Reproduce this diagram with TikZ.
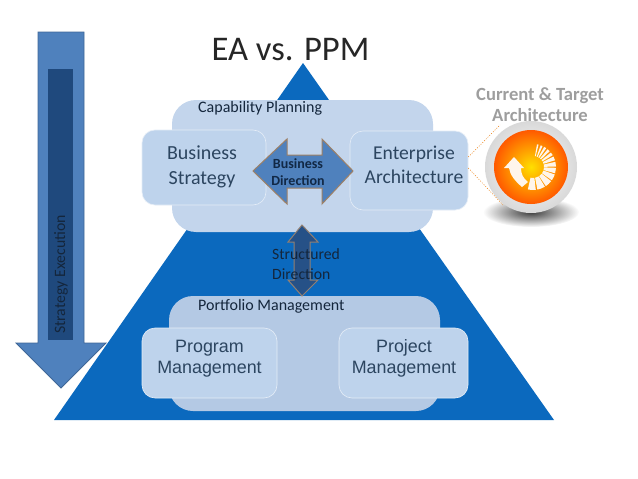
\documentclass[tikz,border=0pt]{standalone}
\usepackage{fontspec}
\setmainfont{Carlito}
\newfontfamily\arialfont{Liberation Sans}
\usetikzlibrary{fadings,shadings}
\definecolor{tri}{HTML}{0B69BE}
\definecolor{panel}{HTML}{C3D5EC}
\definecolor{panelb}{HTML}{B4C9E4}
\definecolor{inner}{HTML}{BED3EC}
\definecolor{arrowblue}{HTML}{4F81BD}
\definecolor{darkblue}{HTML}{1F497D}
\definecolor{labelcol}{HTML}{14263C}
\definecolor{softcol}{HTML}{2C4560}
\tikzfading[name=softshadow,inner color=transparent!15,outer color=transparent!100]
\tikzset{
  panelbox/.style={rounded corners=24pt,inner sep=0pt},
  innerbox/.style={fill=inner,draw=white!60!inner,line width=0.6pt,rounded corners=13pt,inner sep=0pt},
  boxtext/.style={align=center,inner sep=0pt,text=softcol},
  arrowshape/.style={fill=arrowblue,draw=#1,line width=1pt,line join=miter},
  lead/.style={draw=orange!70!brown,dash pattern=on 1pt off 1.5pt,line width=0.5pt},
  caption/.style={font=\fontsize{16}{16}\selectfont,text=labelcol,anchor=west,inner sep=0pt},
}
\begin{document}
\begin{tikzpicture}[x=1pt,y=-1pt]
\useasboundingbox (0,0) rectangle (638,479);
\fill[white] (0,0) rectangle (638,479);

% left arrow
\draw[fill=arrowblue,draw=arrowblue!80!black,line width=0.8pt] (38,32) -- (84,32) -- (84,343) -- (106,343) -- (61,388) -- (16,343) -- (38,343) -- cycle;
\fill[darkblue] (48,69) rectangle (73,340);
\node[rotate=90,font=\fontsize{15.8}{16}\selectfont,text=labelcol,inner sep=0pt,anchor=west] (exec) at (61,334) {Strategy Execution};

% pyramid
\fill[tri] (303,63) -- (554,420) -- (54,420) -- cycle;
\node[inner sep=0pt,font=\fontsize{34.6}{34.6}\selectfont,text=black!85] (title) at (290.5,49.5) {EA vs. PPM};

% capability panel
\path[panelbox,fill=panel] (172,100) rectangle (433,232);
\node[caption] (cap) at (198,108.5) {Capability Planning};
\node[innerbox,minimum width=124pt,minimum height=75pt] (bs) at (204,167.5) {};
\node[boxtext,font=\fontsize{20}{24.5}\selectfont] (bst) at (202,167) {Business\\Strategy};
\node[innerbox,minimum width=118pt,minimum height=79pt] (ea) at (409,170.5) {};
\node[boxtext,font=\fontsize{19.6}{23.5}\selectfont] (eat) at (414,165) {Enterprise\\Architecture};

% business direction
\draw[arrowshape={brown!70!arrowblue}] (253,171) -- (287,139) -- (287,155) -- (322,155) -- (322,139) -- (353,171) -- (322,204) -- (322,188) -- (287,188) -- (287,204) -- cycle;
\node[font=\bfseries\fontsize{14}{17}\selectfont,text=darkblue!55!black,align=center,inner sep=0pt] (bd) at (298,172) {Business\\Direction};

% portfolio panel
\path[panelbox,fill=panelb] (169,296) rectangle (440,411);
\node[caption] (port) at (198,306) {Portfolio Management};
\node[innerbox,minimum width=135pt,minimum height=70pt] (prog) at (209.5,363) {};
\node[boxtext,font=\arialfont\fontsize{17.9}{21}\selectfont] (progt) at (209.5,359) {Program\\Management};
\node[innerbox,minimum width=129pt,minimum height=70pt] (proj) at (403.5,363) {};
\node[boxtext,font=\arialfont\fontsize{17.9}{21}\selectfont] (projt) at (404,358) {Project\\Management};

% structured direction
\draw[fill=darkblue!85!arrowblue,draw=brown!60!arrowblue,line width=1pt] (302,225) -- (318,242) -- (310,242) -- (310,280) -- (318,280) -- (302,296) -- (288,280) -- (294,280) -- (294,242) -- (288,242) -- cycle;
\node[font=\fontsize{15.7}{19.5}\selectfont,text=labelcol,align=left,inner sep=0pt,anchor=north west] (sd) at (272,248.5) {Structured\\Direction};

% icon
\fill[black,path fading=softshadow,opacity=0.9] (531,212) ellipse [x radius=48pt,y radius=15pt];
\node[circle,minimum size=92pt,inner sep=0pt,shading=radial,inner color=white,outer color=gray!30] (icon) at (531,167) {};
\shade[inner color=yellow!75!orange,middle color=orange!90!yellow,outer color=orange!70!red] (531,167) circle [radius=37pt];
\begin{scope}[shift={(533,167)},y=1pt]
  \foreach \a/\w in {78/2,68/2.5,58/3,47/3.5,35/4,22/5,7/6,-9/7,-27/8,-47/9,-69/10,-93/10} {
    \fill[white!92!orange] (\a-\w:11pt) -- (\a-\w:23pt) arc [start angle=\a-\w,end angle=\a+\w,radius=23pt] -- (\a+\w:11pt) arc [start angle=\a+\w,end angle=\a-\w,radius=11pt] -- cycle;
  }
\end{scope}
\fill[white!92!orange] (514,157) -- (524,168) -- (521,168) .. controls (521,174) and (523,178) .. (528,182) -- (522,187) .. controls (515,181) and (510,175) .. (509,168) -- (504,168) -- cycle;

\coordinate (ltop) at (500,125);
\coordinate (lbot) at (503,205);
\draw[lead] (ea.east |- 0,157) -- (ltop);
\draw[lead] (ea.east |- 0,168) -- (lbot);

\node[font=\bfseries\fontsize{18.6}{21.5}\selectfont,text=black!38,align=center,inner sep=0pt] (ct) at (540,104.5) {Current \& Target\\Architecture};
\end{tikzpicture}
\end{document}
